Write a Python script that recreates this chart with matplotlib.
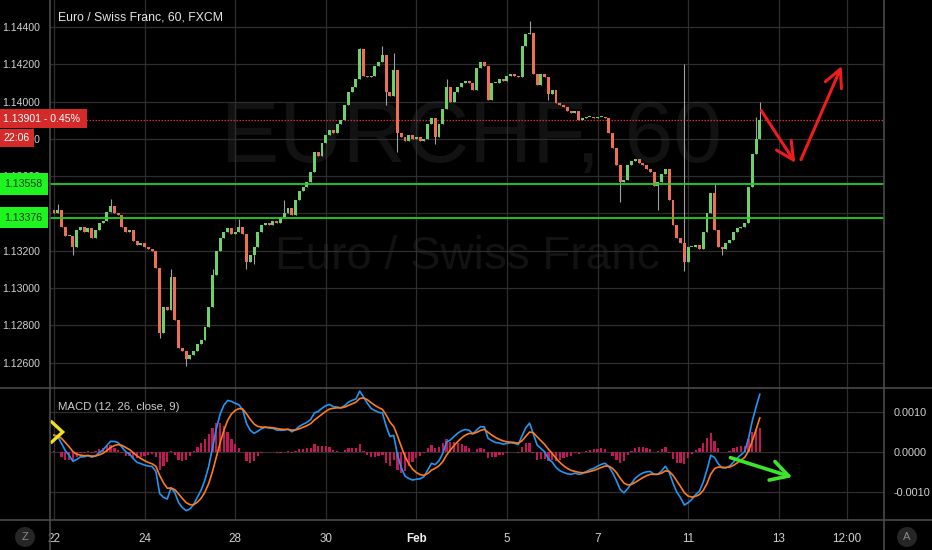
import numpy as np
import matplotlib.pyplot as plt
from matplotlib.lines import Line2D

plt.rcParams['font.family'] = ['Liberation Sans', 'DejaVu Sans']

# hourly chart read at 2-hour steps, EUR/CHF (FXCM)
closes = [
    1.1340, 1.1342, 1.1333, 1.1328, 1.1328, 1.1322, 1.1331, 1.1333, 1.1330, 1.1332,
    1.1327, 1.1331, 1.1335, 1.1336, 1.1341, 1.1344, 1.1340, 1.1339, 1.1333, 1.1330,
    1.1331, 1.1325, 1.1323, 1.1324, 1.1322, 1.1321, 1.1320, 1.1311, 1.1276, 1.1290,
    1.1288, 1.1306, 1.1283, 1.1268, 1.1266, 1.1262, 1.1264, 1.1266, 1.1270, 1.1272,
    1.1279, 1.1290, 1.1307, 1.1320, 1.1327, 1.1330, 1.1332, 1.1329, 1.1330, 1.1333,
    1.1329, 1.1314, 1.1318, 1.1322, 1.1330, 1.1334, 1.1335, 1.1334, 1.1336, 1.1335,
    1.1338, 1.1340, 1.1343, 1.1339, 1.1347, 1.1352, 1.1354, 1.1357, 1.1362, 1.1373,
    1.1371, 1.1378, 1.1382, 1.1385, 1.1383, 1.1388, 1.1390, 1.1398, 1.1405, 1.1408,
    1.1412, 1.1428, 1.1414, 1.1413, 1.1414, 1.1419, 1.1421, 1.1425, 1.1405, 1.1403,
    1.1417, 1.1383, 1.1381, 1.1379, 1.1382, 1.1380, 1.1381, 1.1379, 1.1380, 1.1388,
    1.1391, 1.1381, 1.1388, 1.1396, 1.1408, 1.1400, 1.1405, 1.1408, 1.1410, 1.1411,
    1.1410, 1.1406, 1.1418, 1.1421, 1.1419, 1.1401, 1.1410, 1.1410, 1.1412, 1.1411,
    1.1414, 1.1415, 1.1414, 1.1413, 1.1430, 1.1436, 1.1437, 1.1415, 1.1409, 1.1415,
    1.1413, 1.1404, 1.1406, 1.1399, 1.1398, 1.1397, 1.1395, 1.1394, 1.1395, 1.1390,
    1.1391, 1.1392, 1.1392, 1.1391, 1.1392, 1.1392, 1.1391, 1.1383, 1.1375, 1.1366,
    1.1357, 1.1358, 1.1366, 1.1368, 1.1369, 1.1367, 1.1366, 1.1364, 1.1362, 1.1355,
    1.1357, 1.1361, 1.1364, 1.1347, 1.1334, 1.1327, 1.1324, 1.1314, 1.1322, 1.1322,
    1.1323, 1.1321, 1.1330, 1.1340, 1.1351, 1.1331, 1.1322, 1.1321, 1.1324, 1.1326,
    1.1330, 1.1332, 1.1333, 1.1335, 1.1354, 1.1372, 1.1380, 1.13901,
]
first_open = 1.1342
# wicks that stick out of the bodies
spike_hi = {1: 1.1345, 15: 1.1348, 31: 1.1310, 42: 1.1310, 49: 1.1337, 61: 1.1347,
            81: 1.1429, 87: 1.1430, 90: 1.1426, 104: 1.1412, 126: 1.1443, 167: 1.1420,
            175: 1.1356, 186: 1.1392, 187: 1.1400}
spike_lo = {5: 1.1318, 28: 1.1273, 35: 1.1258, 51: 1.1310, 53: 1.1313, 88: 1.1398,
            91: 1.1373, 101: 1.1377, 131: 1.1401, 150: 1.1346, 160: 1.1342, 167: 1.1309,
            177: 1.1318}

# EMA seeds from the bars before the window
fast_seed, slow_seed, signal_seed = 1.1341, 1.1336, 0.0004

day_ticks = [0, 24, 48, 72, 96, 120, 144, 168, 192, 210]
day_labels = ['22', '24', '28', '30', 'Feb', '5', '7', '11', '13', '12:00']
price_ticks = [1.126, 1.128, 1.130, 1.132, 1.134, 1.136, 1.138, 1.140, 1.142, 1.144]
macd_ticks = [-0.001, 0.0, 0.001]
last_price = 1.13901
change_text = '0.45%'
countdown = '22:06'
levels = [1.13558, 1.13376]

# drawn arrows (bar index, value)
red_down = [(187.0, 1.13964), (196.8, 1.13659)]
red_up = [(197.6, 1.13675), (209.0, 1.14205)]
green_arrow = [(178.5, -0.00013), (196.3, -0.00066)]


def ema(values, span, seed):
    a = 2.0 / (span + 1)
    out = []
    e = seed
    for v in values:
        e = e + a * (v - e)
        out.append(e)
    return np.array(out)


c = np.array(closes)
o = np.concatenate([[first_open], c[:-1]])
hi = np.maximum(o, c)
lo = np.minimum(o, c)
for k, v in spike_hi.items():
    hi[k] = max(hi[k], v)
for k, v in spike_lo.items():
    lo[k] = min(lo[k], v)
x = np.arange(len(c))

# MACD(12, 26, 9) on hourly bars -> half spans on 2h bars
macd = ema(c, 6, fast_seed) - ema(c, 13, slow_seed)
signal = ema(macd, 5, signal_seed)
hist = macd - signal

BG = '#000000'
GRID = '#2e2e2e'
TXT = '#d2d2d2'
UP = '#6fcf6a'
DOWN = '#ee7052'

fig = plt.figure(figsize=(9.32, 5.5), dpi=100, facecolor=BG)
ax = fig.add_axes([50 / 932, 1 - 388 / 550, 834 / 932, 388 / 550], facecolor=BG)
mx = fig.add_axes([50 / 932, 1 - 520 / 550, 834 / 932, 132 / 550], facecolor=BG, sharex=ax)

for a in (ax, mx):
    for s in a.spines.values():
        s.set_visible(False)
    a.set_axisbelow(True)
    a.grid(True, color=GRID, lw=0.9)
    a.set_xticks(day_ticks)
    a.tick_params(length=0, colors=TXT)

ax.set_xlim(-1.06, 219.9)
ax.set_ylim(1.12464, 1.14545)
mx.set_ylim(-0.00171, 0.00159)

# watermark
ax.text(0.505, 0.64, 'EURCHF, 60', transform=ax.transAxes, ha='center', va='center',
        fontsize=63, color='#121212', zorder=0)
ax.text(0.501, 0.338, 'Euro / Swiss Franc', transform=ax.transAxes, ha='center', va='center',
        fontsize=33, color='#121212', zorder=0)

# candles
cols = np.where(c >= o, UP, DOWN)
ax.vlines(x, lo, hi, color='#a0a0a0', lw=0.8, zorder=2)
ax.bar(x, np.maximum(np.abs(c - o), 0.00004), bottom=np.minimum(o, c),
       width=0.78, color=cols, zorder=3, linewidth=0)

ax.axhline(last_price, color='#d03030', lw=0.9, ls=(0, (1.2, 1.2)), zorder=1)
for lv in levels:
    ax.axhline(lv, color='#1ed31e', lw=1.3, zorder=4)

for (x0, y0), (x1, y1) in (red_down, red_up):
    ax.annotate('', xy=(x1, y1), xytext=(x0, y0),
                arrowprops=dict(arrowstyle='->,head_length=0.9,head_width=0.45',
                                color='#ee1c1c', lw=2.2, mutation_scale=14), zorder=6)

ax.set_yticks(price_ticks)
ax.set_yticklabels(['%.5f' % p for p in price_ticks], fontsize=7.6)
ax.tick_params(axis='y', pad=7)
ax.tick_params(axis='x', labelbottom=False)

# MACD pane
mx.bar(x, hist, width=0.6, color='#c2185b', linewidth=0, zorder=2)
mx.plot(x, macd, color='#2196f3', lw=1.2, zorder=3)
mx.plot(x, signal, color='#ff7b1c', lw=1.2, zorder=3)
(gx0, gy0), (gx1, gy1) = green_arrow
mx.annotate('', xy=(gx1, gy1), xytext=(gx0, gy0),
            arrowprops=dict(arrowstyle='->,head_length=0.9,head_width=0.5',
                            color='#3ce62a', lw=2.6, mutation_scale=14), zorder=6)
mx.plot([-0.6, 2.3, -0.6], [0.00074, 0.00049, 0.00024], color='#f0e020', lw=2.4,
        zorder=6, clip_on=False, solid_joinstyle='miter')
mx.yaxis.tick_right()
mx.set_yticks(macd_ticks)
mx.set_yticklabels(['%.4f' % v for v in macd_ticks], fontsize=7.8, ha='left')
mx.tick_params(axis='y', pad=7)
mx.set_xticklabels(day_labels, fontsize=8.4)
mx.tick_params(axis='x', pad=9)
for t in mx.get_xticklabels():
    if t.get_text() == 'Feb':
        t.set_fontweight('bold')
        t.set_color('#f0f0f0')

# pane borders
for yy in (388, 520):
    fig.add_artist(Line2D([0, 1], [1 - yy / 550] * 2, color='#4a4a4a', lw=1.2))
for xx in (50, 884):
    fig.add_artist(Line2D([xx / 932] * 2, [0, 1], color='#4a4a4a', lw=1.2))

fig.text(58 / 932, 1 - 18 / 550, 'Euro / Swiss Franc, 60, FXCM', fontsize=8.8,
         color='#e6e6e6', va='center')
fig.text(58 / 932, 1 - 407 / 550, 'MACD (12, 26, close, 9)', fontsize=8.2,
         color='#d0d0d0', va='center')

# price labels on the scale
fig.text(3 / 932, 1 - 118.5 / 550, '%.5f - %s ' % (last_price, change_text), fontsize=7.6,
         color='white', va='center',
         bbox=dict(boxstyle='square,pad=0.42', fc='#d42a2a', ec='none'))
fig.text(3 / 932, 1 - 138 / 550, countdown, fontsize=7.6, color='white', va='center',
         bbox=dict(boxstyle='square,pad=0.42', fc='#d42a2a', ec='none'))
for lv in levels:
    yy = 26.7 + (1.144 - lv) / 0.002 * 37.3
    fig.text(4 / 932, 1 - yy / 550, '%.5f' % lv, fontsize=7.6, color='#0a3a0a',
             va='center', bbox=dict(boxstyle='square,pad=0.55', fc='#1ef51e', ec='none'))

for px, letter in ((25, 'Z'), (907, 'A')):
    fig.text(px / 932, 1 - 537 / 550, letter, fontsize=8, color='#8a8a8a', ha='center',
             va='center', bbox=dict(boxstyle='circle,pad=0.45', fc='#262626', ec='none'))

fig.savefig('out.png', dpi=100, facecolor=BG)
